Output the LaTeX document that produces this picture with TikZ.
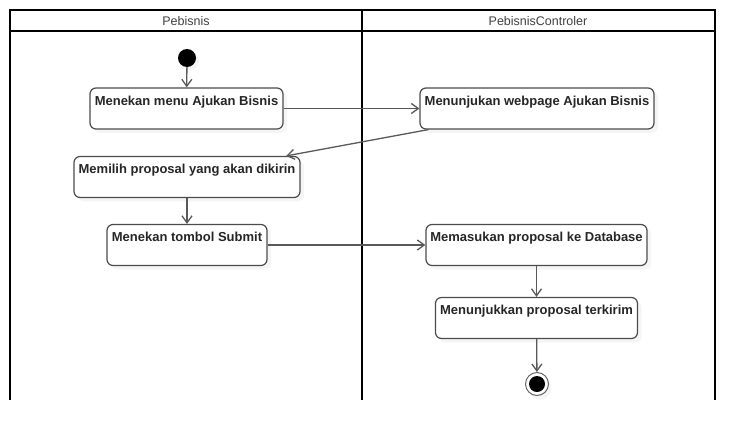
\documentclass[tikz,border=0pt]{standalone}
\usepackage{fontspec}
\setmainfont{Liberation Sans}
\usetikzlibrary{arrows.meta,shadows}

\begin{document}
\begin{tikzpicture}
      [x=1pt, y=-1pt,
        act/.style={draw=black!70, line width=1.2pt, rounded corners=6pt, fill=white,
          drop shadow={opacity=.08, shadow xshift=4pt, shadow yshift=-4pt},
          font=\fontsize{13}{15}\selectfont\bfseries, text=black!85,
          inner ysep=0pt, text height=17pt, text depth=24pt},
        flow/.style={draw=black!65, line width=1.3pt, -{Straight Barb[length=7pt, width=10pt]}},
        lane/.style={line width=1.6pt},
        title/.style={font=\fontsize{12.5}{15}\selectfont, text=black!75}]
      \useasboundingbox (0,0) rectangle (754,442);
      % swimlanes
      \draw[lane] (10,400) -- (10,10) -- (715,10) -- (715,400);
      \draw[lane] (10,31) -- (715,31);
      \draw[line width=2.8pt] (362,10) -- (362,400);
      \node[title] (pebisnis) at (186,21) {Pebisnis};
      \node[title] (controler) at (538,21) {PebisnisControler};
      % start and end
      \node[circle, fill=black, minimum size=18pt, inner sep=0pt,
        drop shadow={opacity=.08, shadow xshift=3pt, shadow yshift=-3pt}] (start) at (187,58) {};
      \node[circle, draw=black!60, line width=1pt, fill=white, minimum size=23pt, inner sep=0pt,
        drop shadow={opacity=.08, shadow xshift=3pt, shadow yshift=-4pt}] (end) at (537,384) {};
      \fill (end) circle (8pt);
      % actions
      \node[act, minimum width=193pt] (menu) at (186.5,108.5) {Menekan menu Ajukan Bisnis};
      \node[act, minimum width=234pt] (webpage) at (537,108.5) {Menunjukan webpage Ajukan Bisnis};
      \node[act, minimum width=226pt] (pilih) at (187,177) {Memilih proposal yang akan dikirin};
      \node[act, minimum width=160pt] (submit) at (187,245) {Menekan tombol Submit};
      \node[act, minimum width=221pt] (simpan) at (536.5,245) {Memasukan proposal ke Database};
      \node[act, minimum width=202pt] (terkirim) at (536.5,318) {Menunjukkan proposal terkirim};
      % transitions
      \draw[flow] (start) -- (menu);
      \draw[flow] (menu) -- (webpage);
      \draw[flow] (webpage.191) -- (pilih.12);
      \draw[flow] (pilih) -- (submit);
      \draw[flow] (submit) -- (simpan);
      \draw[flow] (simpan) -- (terkirim);
      \draw[flow] (terkirim) -- (end);
    \end{tikzpicture}
\end{document}
